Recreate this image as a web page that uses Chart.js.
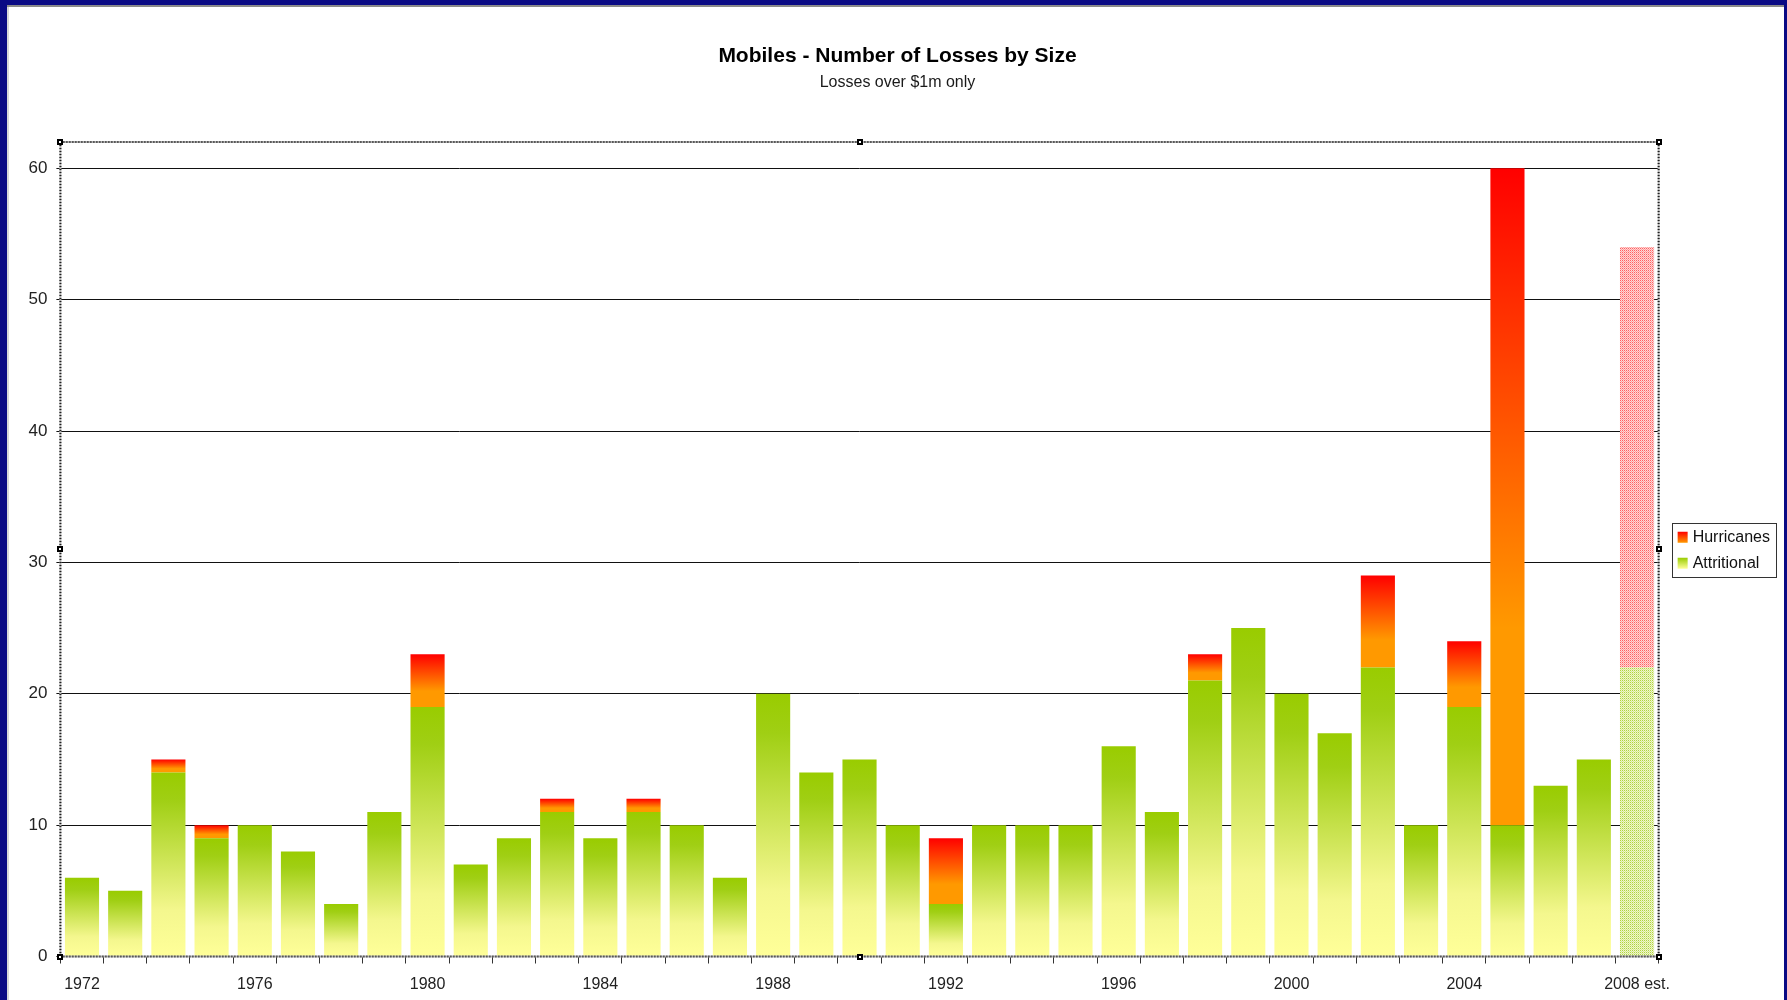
<!DOCTYPE html>
<html><head><meta charset="utf-8">
<script src="https://cdn.jsdelivr.net/npm/chart.js@4/dist/chart.umd.min.js"></script>
<style>html,body{margin:0;padding:0;background:#fff;overflow:hidden}canvas{display:block}</style>
</head><body>
<canvas id="c" width="1787" height="1000"></canvas>
<script>
const years = ['1972','1973','1974','1975','1976','1977','1978','1979','1980','1981','1982','1983','1984','1985','1986','1987','1988','1989','1990','1991','1992','1993','1994','1995','1996','1997','1998','1999','2000','2001','2002','2003','2004','2005','2006','2007','2008 est.'];
const attritional = [6,5,14,9,10,8,4,11,19,7,9,11,9,11,10,6,20,14,15,10,4,10,10,10,16,11,21,25,20,17,22,10,19,10,13,15,22];
const hurricanes  = [0,0,1,1,0,0,0,0,4,0,0,1,0,1,0,0,0,0,0,0,5,0,0,0,0,0,2,0,0,0,7,0,5,50,0,0,32];
const seriesNames = ['Attritional','Hurricanes'];
const yTicks = [0,10,20,30,40,50,60];
const titleText = 'Mobiles - Number of Losses by Size';
const subtitleText = 'Losses over $1m only';
const estIndex = years.length - 1;
const FONT = '"Liberation Sans", Arial, sans-serif';

function makePattern(bg, dot, dot2) {
  const c = document.createElement('canvas'); c.width = 2; c.height = 2;
  const g = c.getContext('2d');
  g.fillStyle = bg; g.fillRect(0,0,2,2);
  g.fillStyle = dot; g.fillRect(0,0,1,1);
  g.fillStyle = dot2; g.fillRect(1,1,1,1);
  return document.createElement('canvas').getContext('2d').createPattern(c, 'repeat');
}
const pinkPattern = makePattern('#ffd6d6', '#ff6060', '#ffa0a0');
const greenPattern = makePattern('#eef6cc', '#b0d440', '#d8ea90');

function attrGrad(g) { g.addColorStop(0,'#99cc00'); g.addColorStop(0.15,'#a0cf14'); g.addColorStop(0.75,'#f4f78e'); g.addColorStop(1,'#ffff99'); return g; }
function hurrGrad(g) { g.addColorStop(0,'#ff0000'); g.addColorStop(0.7,'#ff9900'); g.addColorStop(1,'#ff9900'); return g; }

function barFill(kind) {
  return (ctx) => {
    const chart = ctx.chart; const area = chart.chartArea; const ys = chart.scales && chart.scales.y;
    if (ctx.type !== 'data' || !area || !ys) return kind === 'h' ? '#ff3300' : '#99cc00';
    const i = ctx.dataIndex;
    if (i === estIndex) return kind === 'h' ? pinkPattern : greenPattern;
    const base = kind === 'h' ? attritional[i] : 0;
    const top = base + (kind === 'h' ? hurricanes[i] : attritional[i]);
    const y0 = ys.getPixelForValue(top), y1 = ys.getPixelForValue(base);
    if (!(y1 > y0)) return 'rgba(0,0,0,0)';
    const g = chart.ctx.createLinearGradient(0, y0, 0, y1);
    return kind === 'h' ? hurrGrad(g) : attrGrad(g);
  };
}

function dottedLine(c, x1, y1, x2, y2) {
  c.save();
  c.lineWidth = 2; c.strokeStyle = '#b0b0b0'; c.setLineDash([]);
  c.beginPath(); c.moveTo(x1, y1); c.lineTo(x2, y2); c.stroke();
  c.strokeStyle = '#202020'; c.setLineDash([1, 2]);
  c.beginPath(); c.moveTo(x1, y1); c.lineTo(x2, y2); c.stroke();
  c.restore();
}
function handle(c, x, y) {
  c.save(); c.fillStyle = '#000'; c.fillRect(Math.round(x) - 3, Math.round(y) - 3, 6, 6);
  c.fillStyle = '#fff'; c.fillRect(Math.round(x) - 1, Math.round(y) - 1, 2, 2); c.restore();
}

const decor = {
  id: 'decor',
  beforeDraw(chart) {
    const c = chart.ctx, W = chart.width, H = chart.height;
    c.save();
    c.fillStyle = '#fff'; c.fillRect(0, 0, W, H);
    c.fillStyle = '#0a0a84';
    c.fillRect(0, 0, W, 5); c.fillRect(0, 0, 7, H); c.fillRect(W - 3, 0, 3, H);
    c.fillStyle = '#8a8a8a'; c.fillRect(7, 5, W - 10, 2);
    c.fillStyle = '#d8d8d8'; c.fillRect(7, 7, 2, H);
    c.restore();
  },
  afterLayout(chart) {
    const l = chart.legend; if (l) { l.left += 9; l.right += 9; l.top += 1; l.bottom += 1; }
  },
  afterDraw(chart) {
    const c = chart.ctx, a = chart.chartArea;
    const top = a.top, bot = a.bottom, L = a.left, R = a.right;
    dottedLine(c, L, top, R, top);
    dottedLine(c, L, top, L, bot);
    dottedLine(c, R, top, R, bot);
    dottedLine(c, L, bot, R, bot);
    const mx = (L + R) / 2, my = (top + bot) / 2;
    [[L,top],[R,top],[L,bot],[R,bot],[mx,top],[L,my],[R,my],[mx,bot]].forEach(p => handle(c, p[0], p[1]));
    const lg = chart.legend;
    if (lg && lg.legendHitBoxes && lg.legendHitBoxes.length) {
      const hb = lg.legendHitBoxes;
      let l = Infinity, t = Infinity, r = -Infinity, b = -Infinity;
      hb.forEach(h => { l = Math.min(l, h.left); t = Math.min(t, h.top); r = Math.max(r, h.left + h.width); b = Math.max(b, h.top + h.height); });
      c.save();
      c.strokeStyle = '#333'; c.lineWidth = 1;
      c.strokeRect(Math.round(l - 6) + 0.5, Math.round(t - 6) + 0.5, Math.round(r - l + 12), Math.round(b - t + 12));
      const items = lg.legendItems;
      hb.forEach((h, k) => {
        const isH = items[k].text === 'Hurricanes';
        const y0 = h.top + 2.5;
        const g = c.createLinearGradient(0, y0, 0, y0 + 11);
        if (isH) { g.addColorStop(0, '#ff0000'); g.addColorStop(1, '#ff9900'); }
        else { g.addColorStop(0, '#99cc00'); g.addColorStop(1, '#ffff99'); }
        c.fillStyle = '#fff'; c.fillRect(h.left - 1, y0 - 1, 9, 13);
        c.fillStyle = g; c.fillRect(h.left, y0, 10, 11);
      });
      c.restore();
    }
  }
};

new Chart(document.getElementById('c'), {
  type: 'bar',
  data: {
    labels: years,
    datasets: [
      { label: seriesNames[0], data: attritional, backgroundColor: barFill('a'), borderWidth: 0 },
      { label: seriesNames[1], data: hurricanes, backgroundColor: barFill('h'), borderWidth: 0 }
    ]
  },
  options: {
    responsive: false,
    animation: false,
    events: [],
    layout: { padding: { left: 24, right: 16, top: 0, bottom: 0 } },
    datasets: { bar: { categoryPercentage: 1, barPercentage: 0.79 } },
    plugins: {
      title: { display: true, text: titleText, color: '#000', font: { family: FONT, size: 21, weight: 'bold' }, padding: { top: 43.3, bottom: 4 } },
      subtitle: { display: true, text: subtitleText, color: '#1a1a1a', font: { family: FONT, size: 16 }, padding: { top: 0.2, bottom: 50.1 } },
      legend: {
        display: true, position: 'right', fullSize: false, reverse: true,
        labels: { boxWidth: 7, boxHeight: 11, padding: 10, color: '#111', font: { family: FONT, size: 16 } }
      },
      tooltip: { enabled: false }
    },
    scales: {
      x: {
        stacked: true,
        border: { display: false },
        grid: { display: true, drawOnChartArea: false, drawTicks: true, tickLength: 7, color: '#333', offset: true },
        ticks: {
          autoSkip: false, maxRotation: 0, minRotation: 0, padding: 11.5,
          color: '#222', font: { family: FONT, size: 16 },
          callback: (v, i) => (i % 4 === 0 ? years[i] : '')
        },
        afterFit: (s) => { s.height = 43.5; }
      },
      y: {
        stacked: true, min: 0, max: 62,
        border: { display: false },
        grid: { color: '#111', lineWidth: 1, tickLength: 4, drawTicks: true },
        ticks: { stepSize: 10, padding: 9, color: '#222', font: { family: FONT, size: 17 } },
        afterBuildTicks: (axis) => { axis.ticks = yTicks.map(v => ({ value: v })); },
        afterFit: (s) => { s.width = 36.4; }
      }
    }
  },
  plugins: [decor]
});
</script>
</body></html>
